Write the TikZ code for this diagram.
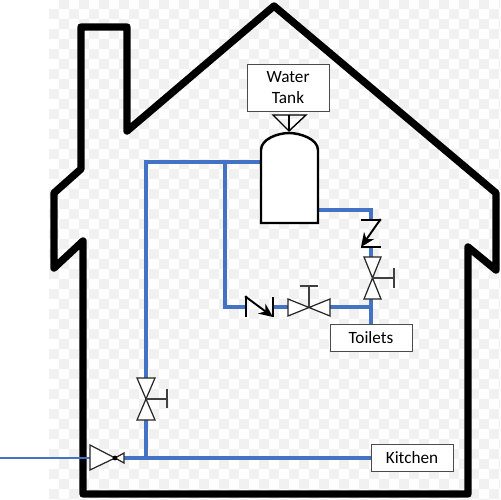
\documentclass[tikz,border=0pt]{standalone}
\usepackage{fontspec}
\setmainfont{Carlito}
\usetikzlibrary{arrows.meta, calc}
\definecolor{tuboAzul}{RGB}{68, 114, 196}
\definecolor{cuadroGris}{RGB}{241, 241, 241}
\begin{document}
\begin{tikzpicture}[x=0.02cm, y=-0.02cm,
        etiqueta/.style={rectangle, draw=black!70, fill=white, line width=0.5pt, inner sep=0pt, align=center, font=\fontsize{9.8}{11.6}\selectfont},
        casa/.style={draw=black, line width=4.2pt, line join=round, line cap=round},
        tubo/.style={draw=tuboAzul, line width=1.75pt},
        tubofino/.style={draw=tuboAzul, line width=1.3pt},
        valvula/.style={draw=black!85, fill=white, line width=0.7pt, line join=miter},
        mando/.style={draw=black!75, line width=0.9pt},
        retencion/.style={draw=black, line width=1pt},
        flecha/.style={-{Stealth[length=8pt, width=7pt]}, draw=black, line width=1.1pt}]

    \useasboundingbox (0,0) rectangle (500,500);

    % Fondo a cuadros
    \foreach \i in {0,...,45} {
        \foreach \j in {-1,...,49} {
            \pgfmathparse{int(mod(\i+\j+2,2))}
            \ifnum\pgfmathresult=0
                \fill[cuadroGris] ({49+10*\i},{max(9+10*\j,0)}) rectangle ({min(59+10*\i,500)},{min(19+10*\j,500)});
            \fi
        }
    }

    % Casa
    \draw[casa] (81,27) -- (127,27) -- (127,131) -- (274,6) -- (496,193) -- (496,270) -- (468,247)
        -- (468,494) -- (83,494) -- (83,241) -- (54,268) -- (54,193) -- (81,169) -- cycle;

    % Etiquetas
    \node[etiqueta, minimum width=1.64cm, minimum height=0.94cm] (tanque) at (288,87.5) {Water\\Tank};
    \node[etiqueta, minimum width=1.64cm, minimum height=0.54cm] (toilets) at (371,337.5) {Toilets};
    \node[etiqueta, minimum width=1.64cm, minimum height=0.54cm] (kitchen) at (412,458) {Kitchen};

    % Puntos de la red
    \coordinate (entrada) at (0,458);
    \coordinate (redIn) at (90,458);
    \coordinate (redOut) at (124,458);
    \coordinate (cruce) at (146,458);
    \coordinate (v1sup) at (146,378);
    \coordinate (v1inf) at (146,420);
    \coordinate (esquina) at (146,162);
    \coordinate (rama) at (225,162);
    \coordinate (tanqueIn) at (261,162);
    \coordinate (ramaBaja) at (225,307);
    \coordinate (r1in) at (246,307);
    \coordinate (r1out) at (273,307);
    \coordinate (v2in) at (288,307);
    \coordinate (v2out) at (330,307);
    \coordinate (union) at (371,307);
    \coordinate (tanqueOut) at (318,210);
    \coordinate (codo) at (371,210);
    \coordinate (r2in) at (371,220);
    \coordinate (r2out) at (371,247);
    \coordinate (v3sup) at (371,257);
    \coordinate (v3inf) at (371,299);

    % Tuberias
    \draw[tubofino] (entrada) -- (redIn);
    \draw[tubo] (redOut) -- (cruce) -- (kitchen.west);
    \draw[tubo] (cruce) -- (v1inf);
    \draw[tubo] (v1sup) -- (esquina) -- (tanqueIn);
    \draw[tubo] (rama) -- (ramaBaja) -- (r1in);
    \draw[tubo] (r1out) -- (v2in);
    \draw[tubo] (v2out) -- (union) -- (toilets.north);
    \draw[tubo] (tanqueOut) -- (codo) -- (r2in);
    \draw[tubo] (r2out) -- (v3sup);
    \draw[tubo] (v3inf) -- (union);

    % Deposito
    \draw[draw=black, fill=white, line width=1.4pt] (261,223) -- (261,150)
        .. controls (261,139) and (278,133) .. (289,133)
        .. controls (300,133) and (318,139) .. (318,150) -- (318,223) -- cycle;
    \draw[draw=black, line width=0.8pt, line join=miter] (273,115) -- (306,115) -- (289,131) -- cycle;
    \draw[draw=black, line width=0.8pt] (289,115) -- (289,131);

    % Valvula de entrada
    \draw[valvula] (90,445) -- (90,470) -- (115,458) -- cycle;
    \draw[valvula] (115,458) -- (124,453) -- (124,463) -- cycle;
    \fill[black] (115,458) circle (2.4);

    % Valvulas de paso
    \draw[valvula] (137,378) -- (155,378) -- (137,420) -- (155,420) -- cycle;
    \draw[mando] (146,399) -- (167,399);
    \draw[mando] (167,389) -- (167,408);

    \draw[valvula] (288,299) -- (288,316) -- (330,299) -- (330,316) -- cycle;
    \draw[mando] (309,307) -- (309,286);
    \draw[mando] (300,286) -- (318,286);

    \draw[valvula] (364,257) -- (381,257) -- (364,299) -- (381,299) -- cycle;
    \draw[mando] (372,278) -- (394,278);
    \draw[mando] (394,268) -- (394,288);

    % Valvulas de retencion
    \draw[retencion] (246,297) -- (246,317);
    \draw[retencion] (273,297) -- (273,317);
    \draw[flecha] (246,297) -- (273,317);
    \fill[black] (246,297) circle (1.6);

    \draw[retencion] (361,220) -- (380,220);
    \draw[retencion] (361,247) -- (381,247);
    \draw[flecha] (380,220) -- (361,247);
    \fill[black] (380,220) circle (1.6);
\end{tikzpicture}
\end{document}
